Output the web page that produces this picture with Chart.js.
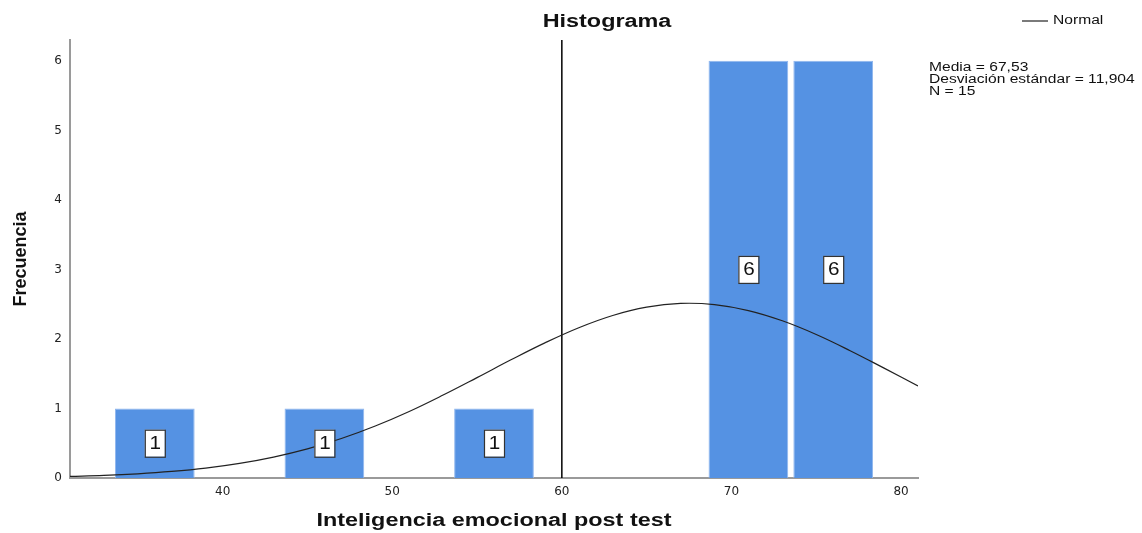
<!DOCTYPE html>
<html><head><meta charset="utf-8">
<script src="https://cdn.jsdelivr.net/npm/chart.js@4.4.1/dist/chart.umd.min.js"></script>
<style>html,body{margin:0;padding:0;background:#fff;}#wrap{width:1142px;height:533px;position:relative;}</style>
</head><body><div id="wrap"><canvas id="c" width="1142" height="533"></canvas></div>
<script>
const binCenters = [36, 46, 56, 71, 76];
const binCounts = [1, 1, 1, 6, 6];
const curveX = [31,33,35,37,39,41,43,45,47,49,51,53,55,57,59,61,63,65,67,69,71,73,75,77,79,81];
const curveY = [0.023,0.037,0.060,0.094,0.142,0.210,0.301,0.419,0.568,0.748,0.957,1.193,1.444,1.700,1.944,2.162,2.338,2.457,2.511,2.494,2.408,2.261,2.064,1.831,1.580,1.325];
const refLineX = 60;
const xTicks = [40, 50, 60, 70, 80];
const yTicks = [0, 1, 2, 3, 4, 5, 6];
const statsLines = ["Media = 67,53", "Desviación estándar = 11,904", "N = 15"];
const FONT = "'Liberation Sans', Arial, sans-serif";
const SX = 1.3;

function stretchText(ctx, text, x, y, sx, align) {
  ctx.save();
  ctx.translate(x, y);
  ctx.scale(sx, 1);
  ctx.textAlign = align;
  ctx.fillText(text, 0, 0);
  ctx.restore();
}

const overlay = {
  id: 'overlay',
  afterDatasetsDraw(chart) {
    const ctx = chart.ctx;
    const xs = chart.scales.x, ys = chart.scales.y;
    ctx.save();
    ctx.font = "18px " + FONT;
    ctx.textBaseline = 'middle';
    binCenters.forEach((c, i) => {
      const px = xs.getPixelForValue(c);
      const py = ys.getPixelForValue(binCounts[i] / 2);
      const w = 20, h = 27;
      ctx.fillStyle = '#fff';
      ctx.fillRect(px - w/2, py - h/2, w, h);
      ctx.strokeStyle = '#333';
      ctx.lineWidth = 1.2;
      ctx.strokeRect(px - w/2 + 0.5, py - h/2 + 0.5, w, h);
      ctx.fillStyle = '#111';
      stretchText(ctx, String(binCounts[i]), px + 0.5, py + 1, 1.15, 'center');
    });
    ctx.restore();
  },
  afterDraw(chart) {
    const ctx = chart.ctx;
    const ca = chart.chartArea;
    ctx.save();
    ctx.fillStyle = '#111';
    ctx.textBaseline = 'middle';
    ctx.font = "bold 18px " + FONT;
    stretchText(ctx, 'Histograma', 607, 22, SX, 'center');
    stretchText(ctx, 'Inteligencia emocional post test', (ca.left + ca.right) / 2, 521, SX, 'center');
    ctx.strokeStyle = '#222';
    ctx.lineWidth = 1.2;
    ctx.beginPath(); ctx.moveTo(1022, 21); ctx.lineTo(1048, 21); ctx.stroke();
    ctx.font = "12px " + FONT;
    stretchText(ctx, 'Normal', 1053, 21, SX, 'left');
    statsLines.forEach((s, i) => stretchText(ctx, s, 929, 67.5 + i * 12, SX, 'left'));
    ctx.restore();
  }
};

new Chart(document.getElementById('c'), {
  data: {
    datasets: [
      {
        type: 'line', label: 'Normal',
        data: curveX.map((x, i) => ({x, y: curveY[i]})),
        borderColor: '#222', borderWidth: 1.2, pointRadius: 0, tension: 0.4, fill: false, order: 0
      },
      {
        type: 'line', label: 'ref',
        data: [{x: refLineX, y: 0}, {x: refLineX, y: 6.3}],
        borderColor: '#000', borderWidth: 1.5, pointRadius: 0, fill: false, order: 1
      },
      {
        type: 'bar', label: 'Frecuencia',
        data: binCenters.map((x, i) => ({x, y: binCounts[i]})),
        backgroundColor: '#5592e3', borderColor: '#8fb6ee', borderWidth: 1,
        barPercentage: 0.94, categoryPercentage: 1.0, order: 2
      }
    ]
  },
  options: {
    responsive: false, animation: false,
    layout: { padding: { top: 40, right: 224, left: 0, bottom: 0 } },
    plugins: { legend: { display: false }, title: { display: false }, tooltip: { enabled: false } },
    scales: {
      x: {
        type: 'linear', min: 31, max: 81, offset: false,
        grid: { display: false, drawTicks: false },
        border: { color: '#9a9a9a', width: 2 },
        ticks: { font: { family: "'DejaVu Sans', sans-serif", size: 12 }, color: '#222', padding: 7 },
        afterBuildTicks: s => { s.ticks = xTicks.map(v => ({value: v})); },
        afterFit: s => { s.height = 55; },
        title: { display: false }
      },
      y: {
        type: 'linear', min: 0, max: 6.3,
        grid: { display: false, drawTicks: false },
        border: { color: '#9a9a9a', width: 2 },
        ticks: { font: { family: "'DejaVu Sans', sans-serif", size: 12 }, color: '#222', padding: 8 },
        afterBuildTicks: s => { s.ticks = yTicks.map(v => ({value: v})); },
        afterFit: s => { s.width = 70; },
        title: { display: true, text: 'Frecuencia', font: { family: FONT, size: 18, weight: 'bold' }, color: '#111', padding: { top: 10, bottom: 0 } }
      }
    }
  },
  plugins: [overlay]
});
</script></body></html>
